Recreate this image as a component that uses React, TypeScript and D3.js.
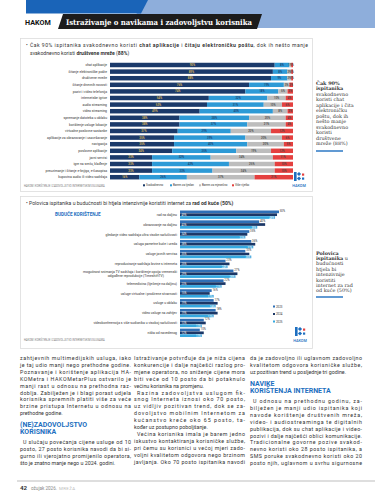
import React from 'react';
import * as d3 from 'd3';

// ---------- Chart 1 data ----------
const usageCategories = [
  'chat aplikacije',
  'čitanje elektroničke pošte',
  'društvene mreže',
  'čitanje dnevnih novosti',
  'pozivi i video telefonija',
  'internetske igrice',
  'audio streaming',
  'video streaming',
  'spremanje datoteka u oblaku',
  'korištenje usluge lokacije',
  'virtualne poslovne sastanke',
  'aplikacije za obrazovanje i usavršavanje',
  'navigacija',
  'poslovne aplikacije',
  'javni servisi',
  'igre na sreću, klađenje',
  'preuzimanje i čitanje e-knjiga, e-časopisa',
  'kupovina audio ili video sadržaja',
];
const usageSeries = ['Svakodnevno', 'Barem za tjedan', 'Barem za mjesečno', 'Više rijetko'];
const daily = [90, 89, 88, 76, 74, 54, 53, 49, 38, 38, 37, 35, 35, 34, 23, 23, 23, 16];
const weekly = [8, 8, 9, 19, 18, 32, 31, 40, 38, 37, 29, 39, 40, 35, 32, 42, 33, 26];
const monthly = [1, 2, 2, 3, 5, 10, 10, 8, 20, 21, 22, 20, 20, 19, 34, 25, 34, 37];
const rarely = [1, 1, 1, 2, 3, 4, 6, 3, 4, 4, 12, 6, 5, 12, 11, 10, 10, 21];

// ---------- Chart 2 data ----------
const futureCategories = [
  ['rad na daljinu'],
  ['obrazovanje na daljinu'],
  ['gledanje video sadržaja ultra visoke razlučivosti'],
  ['usluga pametne kuće i ureda'],
  ['usluge javnih servisa'],
  ['reproduciranje sadržaja brzine s interneta'],
  ['mogućnost snimanja TV sadržaja i korištenje opcija vremenski', 'odgođene reprodukcije (TimeshiftTV)'],
  ['telemedicina (liječenje na daljinu)'],
  ['usluge virtualne i proširene stvarnosti'],
  ['usluge u oblaku'],
  ['video usluge na zahtjev'],
  ['videokonferencija s više sudionika u visokoj razlučivosti'],
  ['ništa od navedenog'],
];
const futureYears = ['2023', '2024', '2025'];
const future2023 = [50, 40, 35, 36, 33, 23, 27, 22, 16, 17, 18, 12, 10];
const future2024 = [49, 43, 34, 38, 35, 25, 29, 23, 15, 19, 19, 13, 12];
const future2025 = [48, 39, 33, 37, 36, 24, 28, 21, 17, 18, 17, 11, 11];

// ---------- Text ----------
const col1Lines = [
  'zahtjevnih multimedijskih usluga, iako',
  'je taj udio manji nego prethodne godine.',
  'Poznavanje i korištenje aplikacija HA-',
  'KOMetra i HAKOMetarPlus ostvarilo je',
  'manji rast u odnosu na prethodna raz-',
  'doblja. Zabilježen je i blagi porast udjela',
  'korisnika spremnih platiti više za veće',
  'brzine pristupa Internetu u odnosu na',
  'prethodne godine.',
];
const col1Heading = ['(NE)ZADOVOLJSTVO', 'KORISNIKA'];
const col1Lines2 = [
  'U slučaju povećanja cijene usluge od 10',
  'posto, 27 posto korisnika navodi da bi si-',
  'gurno ili vjerojatno promijenilo operatora,',
  'što je znatno manje nego u 2024. godini.',
];
const col2Lines = [
  'Istraživanje potvrđuje da je niža cijena',
  'konkurencije i dalje najčešći razlog pro-',
  'mjene operatora, no sniženje cijene mora',
  'biti veće od 10 posto da bi potaknulo',
  'većinu korisnika na promjenu.',
  'Razina zadovoljstva uslugom fik-',
  'snog Interneta iznosi oko 70 posto,',
  'uz vidljiv pozitivan trend, dok se za-',
  'dovoljstvo mobilnim Internetom za',
  'kućanstvo kreće oko 65 posto, ta-',
  'kođer uz postupno poboljšanje.',
  'Većina korisnika imala je barem jedno',
  'iskustvo kontaktiranja korisničke službe,',
  'pri čemu su korisnici u većoj mjeri zado-',
  'voljni kvalitetom odgovora nego brzinom',
  'javljanja. Oko 70 posto ispitanika navodi',
];
const col3Lines = [
  'da je zadovoljno ili uglavnom zadovoljno',
  'kvalitetom odgovora korisničke službe,',
  'uz pozitivan trend u posljednje tri godine.',
];
const col3Heading = ['NAVIKE', 'KORIŠTENJA INTERNETA'];
const col3Lines2 = [
  'U odnosu na prethodnu godinu, za-',
  'bilježen je manji udio ispitanika koji',
  'navode korištenje društvenih mreža,',
  'video- i audiostreaminga te digitalnih',
  'publikacija, dok su chat aplikacije i video-',
  'pozivi i dalje najčešći oblici komunikacije.',
  'Tradicionalne govorne pozive svakod-',
  'nevno koristi oko 28 posto ispitanika, a',
  'SMS poruke svakodnevno koristi oko 20',
  'posto njih, uglavnom u svrhu sigurnosne',
];
const side1Lines = ['Čak 90%', 'ispitanika', 'svakodnevno', 'koristi chat', 'aplikacije i čita', 'elektroničku', 'poštu, dok ih', 'nešto manje', 'svakodnevno', 'koristi', 'društvene', 'mreže (88%)'];
const side2Lines = ['Polovica', 'ispitanika u', 'budućnosti', 'htjela bi', 'intenzivnije', 'koristiti', 'internet za rad', 'od kuće (50%)'];

const C = {
  dark: '#1b3a6a',
  light: '#2d9ad6',
  grey: '#bdbdbd',
  red: '#e4403f',
  y23: '#2f6fb6',
  y24: '#1b3767',
  y25: '#35a8e0',
  blue: '#1d6fc0',
  text: '#333',
};
const usageColors = [C.dark, C.light, C.grey, C.red];
const usageLabelColors = ['#e2c25a', '#1b3a6a', '#444', '#444'];
const yearColors = [C.y23, C.y24, C.y25];

const BODY = 'Roboto, "Open Sans", sans-serif';
const SERIF = '"DejaVu Serif", serif';

function Column({ x, lines, y0, lh, width, indentFirst, lastIdx }: any) {
  return (
    <g>
      {lines.map((t: string, i: number) => {
        const indent = indentFirst && indentFirst.includes(i) ? 3 : 0;
        const justify = !(lastIdx && lastIdx.includes(i));
        return (
          <text key={i} x={x + indent} y={y0 + i * lh} fontSize={5.3} fontFamily={BODY} fill={C.text}
            {...(justify ? { textLength: width - indent, lengthAdjust: 'spacing' } : {})}>
            {t}
          </text>
        );
      })}
    </g>
  );
}

function Logo({ x, y }: { x: number; y: number }) {
  return (
    <g transform={`translate(${x},${y})`}>
      <rect x={2} y={0} width={2.6} height={9} fill={C.blue} />
      <rect x={5.5} y={0.5} width={3} height={3} fill={C.blue} transform="rotate(45 7 2)" />
      <rect x={5.5} y={5} width={3} height={3} fill={C.blue} transform="rotate(45 7 6.5)" />
      <rect x={10} y={1.5} width={2.2} height={2.2} fill={C.red} />
      <rect x={10} y={5.5} width={2.2} height={2.2} fill={C.blue} />
      <text x={7} y={14.5} fontSize={3.8} fontFamily={BODY} fill={C.blue} textAnchor="middle" fontWeight={500}>HAKOM</text>
    </g>
  );
}

export default function App() {
  // chart 1 scales
  const x1 = d3.scaleLinear().domain([0, 100]).range([110, 293]);
  const y1 = d3.scaleBand().domain(usageCategories).range([61.7, 180.5]).paddingInner(0.32).paddingOuter(0.16);
  const table = usageCategories.map((c, i) => ({ c, s0: daily[i], s1: weekly[i], s2: monthly[i], s3: rarely[i] }));
  const stack = d3.stack<any>().keys(['s0', 's1', 's2', 's3'])(table);

  // chart 2 scales
  const x2 = d3.scaleLinear().domain([0, 50]).range([180, 279]);
  const y2 = d3.scaleBand().domain(futureCategories.map((d) => d[0])).range([210.5, 337]).paddingInner(0.15);
  const yIn = d3.scaleBand().domain(futureYears).range([0, y2.bandwidth()]).paddingInner(0.05);
  const futureVals = [future2023, future2024, future2025];

  return (
    <div style={{ position: 'absolute', left: 0, top: 0, width: 375, height: 499, background: '#fff' }}>
      <svg width={375} height={499} viewBox="0 0 375 499" style={{ display: 'block' }}>
        <rect width={375} height={499} fill="#fff" />
        {/* banner */}
        <polygon points="140,0 375,0 375,28 133,28" fill="#8eaedb" />
        <polygon points="26,0 148,0 141,13.5 26,13.5" fill="#1a64b8" />
        <polygon points="63,14 262,14 257,29 58,29" fill="#1c1c1c" />
        <text x={25} y={25} fontSize={7.2} fontWeight={700} fontFamily={BODY} fill="#111">HAKOM</text>
        <text x={66} y={25} fontSize={7.6} fontWeight={700} fontFamily={SERIF} fill="#fff" textLength={186} lengthAdjust="spacingAndGlyphs">Istraživanje o navikama i zadovoljstvu korisnika</text>

        {/* chart 1 box */}
        <rect x={20.5} y={38.5} width={292} height={153} fill="#fff" stroke="#dcdcdc" strokeWidth={0.8} />
        <text x={26} y={47} fontSize={5.1} fontFamily={BODY} fill={C.text} textLength={282} lengthAdjust="spacing">
          • Čak 90% ispitanika svakodnevno koristi <tspan fontWeight={700}>chat aplikacije</tspan> i <tspan fontWeight={700}>čitaju elektroničku poštu</tspan>, dok ih nešto manje
        </text>
        <text x={30} y={54.5} fontSize={5.1} fontFamily={BODY} fill={C.text}>
          svakodnevno koristi <tspan fontWeight={700}>društvene mreže</tspan> (<tspan fontWeight={700}>88%</tspan>)
        </text>
        {usageCategories.map((c) => (
          <text key={c} x={107} y={(y1(c) as number) + y1.bandwidth() / 2 + 1.2} fontSize={3.4} fontFamily={BODY} fill="#333" textAnchor="end">{c}</text>
        ))}
        {stack.map((s, si) => (
          <g key={si}>
            {s.map((d: any, i: number) => (
              <rect key={i} x={x1(d[0])} y={y1(usageCategories[i])} width={x1(d[1]) - x1(d[0])} height={y1.bandwidth()} fill={usageColors[si]} />
            ))}
            {s.map((d: any, i: number) => (
              <text key={'t' + i} x={(x1(d[0]) + x1(d[1])) / 2} y={(y1(usageCategories[i]) as number) + y1.bandwidth() / 2 + 1} fontSize={2.9} fontFamily={BODY} fill={usageLabelColors[si]} textAnchor="middle" fontWeight={500}>
                {d[1] - d[0]}%
              </text>
            ))}
          </g>
        ))}
        <text x={24} y={186.5} fontSize={2.6} fontFamily={BODY} fill="#777">HAKOM | KORIŠTENJE I ZADOVOLJSTVO INTERNETSKIM USLUGAMA</text>
        {usageSeries.map((s, i) => {
          const lx = [143, 170, 199, 232][i];
          return (
            <g key={s}>
              <rect x={lx} y={184.3} width={2} height={2} fill={usageColors[i]} />
              <text x={lx + 3} y={186.3} fontSize={2.9} fontFamily={BODY} fill="#333">{s}</text>
            </g>
          );
        })}
        <Logo x={292} y={172} />

        {/* side note 1 */}
        {side1Lines.map((t, i) => (
          <text key={i} x={316} y={84.5 + i * 5.5} fontSize={4.9} fontFamily={SERIF} fill="#333" fontWeight={i < 2 ? 700 : 400}>{t}</text>
        ))}
        <line x1={316} x2={343} y1={151} y2={151} stroke={C.blue} strokeWidth={1.4} />

        {/* chart 2 box */}
        <rect x={20.5} y={196.5} width={292} height={152} fill="#fff" stroke="#dcdcdc" strokeWidth={0.8} />
        <text x={26} y={205} fontSize={5.1} fontFamily={BODY} fill={C.text}>
          • Polovica ispitanika u budućnosti bi htjela intenzivnije koristiti internet za <tspan fontWeight={700}>rad od kuće (50%)</tspan>
        </text>
        <text x={55} y={216} fontSize={4.6} fontFamily={BODY} fill={C.blue} fontWeight={700}>BUDUĆE KORIŠTENJE</text>
        {futureCategories.map((c) => {
          const cy = (y2(c[0]) as number) + y2.bandwidth() / 2;
          return c.length === 1 ? (
            <text key={c[0]} x={177} y={cy + 1.2} fontSize={3.4} fontFamily={BODY} fill="#333" textAnchor="end">{c[0]}</text>
          ) : (
            <g key={c[0]}>
              <text x={177} y={cy - 0.8} fontSize={3.4} fontFamily={BODY} fill="#333" textAnchor="end">{c[0]}</text>
              <text x={164} y={cy + 3.2} fontSize={3.4} fontFamily={BODY} fill="#333" textAnchor="end">{c[1]}</text>
            </g>
          );
        })}
        {futureCategories.map((c, i) => (
          <g key={'g' + i} transform={`translate(0,${y2(c[0])})`}>
            {futureYears.map((yr, k) => (
              <rect key={yr} x={x2(0)} y={yIn(yr)} width={x2(futureVals[k][i]) - x2(0)} height={yIn.bandwidth()} fill={yearColors[k]} />
            ))}
            <text x={x2(0) + 1.5} y={(yIn('2024') as number) + yIn.bandwidth() / 2 + 1} fontSize={2.6} fontFamily={BODY} fill="#fff">{future2024[i]}%</text>
            <text x={x2(future2023[i]) + 0.8} y={(yIn('2023') as number) + 1.5} fontSize={2.8} fontFamily={BODY} fill="#333">{future2023[i]}%</text>
            <text x={x2(future2025[i]) - 1} y={(yIn('2025') as number) + yIn.bandwidth() + 0.2} fontSize={2.6} fontFamily={BODY} fill="#fff" textAnchor="end">{future2025[i]}%</text>
          </g>
        ))}
        {futureYears.map((yr, k) => (
          <g key={yr}>
            <rect x={273} y={305.5 + k * 7.5} width={2} height={2} fill={yearColors[k]} />
            <text x={276} y={307.5 + k * 7.5} fontSize={2.9} fontFamily={BODY} fill="#333">{yr}</text>
          </g>
        ))}
        <Logo x={293} y={327} />
        <text x={24} y={341} fontSize={2.6} fontFamily={BODY} fill="#777">HAKOM | KORIŠTENJE I ZADOVOLJSTVO INTERNETSKIM USLUGAMA</text>

        {/* side note 2 */}
        {side2Lines.map((t, i) => (
          <text key={i} x={316} y={254.5 + i * 5.4} fontSize={4.9} fontFamily={SERIF} fill="#333" fontWeight={i < 2 ? 700 : 400}>
            {i === 1 ? (<><tspan fontWeight={700}>ispitanika</tspan><tspan fontWeight={400}> u</tspan></>) : t}
          </text>
        ))}
        <line x1={316} x2={343} y1={297} y2={297} stroke={C.blue} strokeWidth={1.4} />

        {/* body columns */}
        <Column x={20} lines={col1Lines} y0={360} lh={6.9} width={111} lastIdx={[8]} />
        {col1Heading.map((t, i) => (
          <text key={t} x={20} y={427 + i * 6.5} fontSize={7} fontWeight={700} fontFamily={BODY} fill={C.blue}>{t}</text>
        ))}
        <Column x={20} lines={col1Lines2} y0={444} lh={6.9} width={111} indentFirst={[0]} lastIdx={[3]} />

        <Column x={134} lines={col2Lines} y0={360} lh={6.9} width={111} indentFirst={[5, 11]} lastIdx={[4, 10]} />

        <Column x={250} lines={col3Lines} y0={360} lh={6.9} width={112} lastIdx={[2]} />
        {col3Heading.map((t, i) => (
          <text key={t} x={250} y={386 + i * 6.5} fontSize={7} fontWeight={700} fontFamily={BODY} fill={C.blue}>{t}</text>
        ))}
        <Column x={250} lines={col3Lines2} y0={403} lh={6.9} width={112} indentFirst={[0]} />

        {/* footer */}
        <line x1={17} x2={375} y1={481} y2={481} stroke="#b5b5b5" strokeWidth={0.9} />
        <text x={20} y={490} fontSize={6.2} fontWeight={700} fontFamily={BODY} fill="#333">42</text>
        <text x={31} y={490} fontSize={4.6} fontFamily={BODY} fill="#888">ožujak 2026.</text>
        <text x={59} y={490} fontSize={4.4} fontFamily={BODY} fill="#bbb" letterSpacing={0.4}>MREŽA</text>
      </svg>
    </div>
  );
}
